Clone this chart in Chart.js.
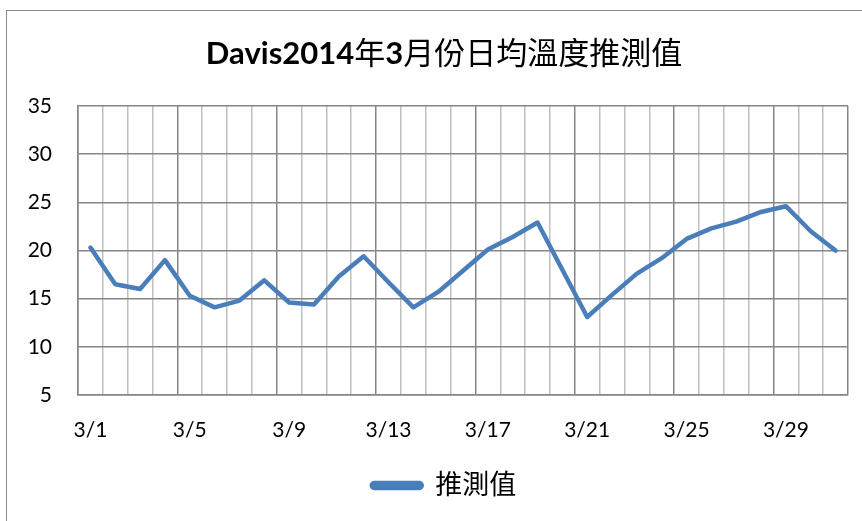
<!DOCTYPE html>
<html>
<head>
<meta charset="utf-8">
<script src="https://cdn.jsdelivr.net/npm/chart.js@4/dist/chart.umd.min.js"></script>
<style>
  html, body { margin: 0; padding: 0; background: #fff; }
  #wrap { position: relative; width: 862px; height: 521px; overflow: hidden; }
  #frame { position: absolute; left: 6px; top: 10px; width: 870px; height: 530px; border: 1px solid #8c8c8c; }
  #chart { position: absolute; left: 0; top: 0; }
</style>
</head>
<body>
<div id="wrap">
  <div id="frame"></div>
  <canvas id="chart" width="862" height="521"></canvas>
</div>
<script>
// days of March 2014
const days = ['3/1', '3/2', '3/3', '3/4', '3/5', '3/6', '3/7', '3/8', '3/9', '3/10',
  '3/11', '3/12', '3/13', '3/14', '3/15', '3/16', '3/17', '3/18', '3/19', '3/20',
  '3/21', '3/22', '3/23', '3/24', '3/25', '3/26', '3/27', '3/28', '3/29', '3/30', '3/31'];

// estimated daily mean temperature
const estimate = [20.3, 16.5, 16.0, 19.0, 15.3, 14.1, 14.8, 16.9, 14.6, 14.4,
  17.3, 19.4, 16.7, 14.1, 15.7, 17.9, 20.1, 21.4, 22.9, 18.0,
  13.1, 15.4, 17.6, 19.2, 21.2, 22.3, 23.0, 24.0, 24.6, 22.0, 20.0];

const yTicks = [5, 10, 15, 20, 25, 30, 35];

const titleText = 'Davis2014年3月份日均溫度推測值';
// latin parts come out bold, the CJK fallback stays regular
const titleRuns = [['Davis2014', 'bold'], ['年', 'normal'], ['3', 'bold'], ['月份日均溫度推測值', 'normal']];

const fontFamily = "Lato, 'Noto Sans CJK TC', sans-serif";
const blue = '#4a7ebb';
const darkGrid = '#868686';
const lightGrid = '#c0c0c0';

// draws the title in mixed weights over the space the title block keeps
const mixedTitle = {
  id: 'mixedTitle',
  afterLayout(chart) {
    // legend sits a bit right of the plot centre in the original
    chart.legend.left += 16;
    chart.legend.right += 16;
  },
  afterDraw(chart) {
    const ctx = chart.ctx;
    const tb = chart.titleBlock;
    const cy = tb.top + tb.options.padding.top + 18;
    ctx.save();
    ctx.fillStyle = '#000';
    ctx.textBaseline = 'middle';
    const fonts = titleRuns.map(r => r[1] + ' 31px ' + fontFamily);
    let total = 0;
    const widths = titleRuns.map((r, i) => { ctx.font = fonts[i]; const w = ctx.measureText(r[0]).width; total += w; return w; });
    let x = 444 - total / 2;
    titleRuns.forEach((r, i) => {
      ctx.font = fonts[i];
      ctx.fillText(r[0], x, cy);
      x += widths[i];
    });
    ctx.restore();
  }
};

new Chart(document.getElementById('chart'), {
  type: 'line',
  data: {
    labels: days,
    datasets: [{
      label: '推測值',
      data: estimate,
      borderColor: blue,
      backgroundColor: blue,
      borderWidth: 4.5,
      pointRadius: 0,
      tension: 0,
      borderJoinStyle: 'round',
      borderCapStyle: 'round'
    }]
  },
  options: {
    responsive: false,
    animation: false,
    layout: { padding: { left: 8, right: 14, top: 12, bottom: 12 } },
    plugins: {
      title: {
        display: true,
        text: titleText,
        color: 'rgba(0,0,0,0)',
        font: { family: fontFamily, size: 30, weight: 'bold' },
        padding: { top: 24, bottom: 34 }
      },
      legend: {
        position: 'bottom',
        labels: {
          color: '#000',
          font: { family: fontFamily, size: 27 },
          boxWidth: 50,
          boxHeight: 5,
          useBorderRadius: true,
          borderRadius: 2.5,
          padding: 10
        }
      },
      tooltip: { enabled: false }
    },
    scales: {
      x: {
        offset: true,
        afterFit: scale => { scale.height = 67; },
        grid: {
          offset: true,
          drawTicks: false,
          color: ctx => (ctx.index === undefined || ctx.index % 4 === 0) ? darkGrid : lightGrid,
          lineWidth: 1.5
        },
        border: { color: darkGrid, width: 1.5 },
        ticks: {
          autoSkip: false,
          maxRotation: 0,
          padding: 23,
          color: '#000',
          font: { family: fontFamily, size: 21 },
          callback: (v, i) => i % 4 === 0 ? days[i] : ''
        }
      },
      y: {
        min: yTicks[0],
        max: yTicks[yTicks.length - 1],
        afterBuildTicks: scale => { scale.ticks = yTicks.map(v => ({ value: v })); },
        afterFit: scale => { scale.width = 70; },
        grid: { drawTicks: false, color: darkGrid, lineWidth: 1.5 },
        border: { color: darkGrid, width: 1.5 },
        ticks: {
          padding: 26,
          color: '#000',
          font: { family: fontFamily, size: 21 }
        }
      }
    }
  },
  plugins: [mixedTitle]
});
</script>
</body>
</html>
